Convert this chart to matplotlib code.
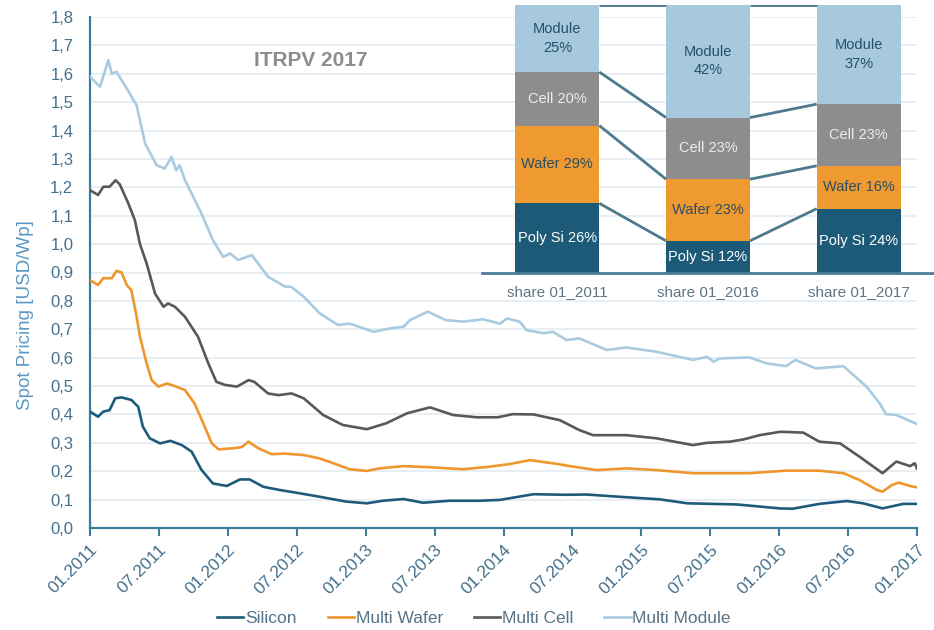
import matplotlib
matplotlib.use("Agg")
import matplotlib.pyplot as plt
import numpy as np

plt.rcParams['font.family'] = ['Liberation Sans', 'DejaVu Sans']

# ---------------- data (months since 01.2011) ----------------
module_m = [0.0, 0.87, 1.6, 1.9, 2.3, 3.2, 4.06, 4.8, 5.8, 6.5, 7.1, 7.5, 7.8, 8.27, 9.7, 10.7,
            11.6, 12.2, 12.9, 14.1, 15.5, 17.0, 17.5, 18.6, 20.0, 21.6, 22.6, 24.7, 26.1, 27.3,
            27.85, 29.4, 31.0, 32.5, 34.2, 35.7, 36.3, 37.4, 38.0, 39.5, 40.3, 41.5, 42.6, 45.0,
            46.7, 49.3, 52.5, 53.7, 54.3, 54.8, 57.4, 58.9, 60.6, 61.4, 63.2, 65.6, 67.6, 68.75,
            69.3, 70.2, 72.0]
module_v = [1.59, 1.554, 1.648, 1.60, 1.607, 1.548, 1.489, 1.354, 1.278, 1.266, 1.307, 1.26, 1.278,
            1.225, 1.108, 1.014, 0.955, 0.967, 0.944, 0.961, 0.885, 0.85, 0.85, 0.815, 0.756, 0.715,
            0.72, 0.691, 0.703, 0.709, 0.732, 0.762, 0.732, 0.727, 0.735, 0.72, 0.738, 0.727, 0.697,
            0.686, 0.691, 0.662, 0.668, 0.627, 0.636, 0.621, 0.592, 0.603, 0.586, 0.597, 0.601,
            0.58, 0.570, 0.592, 0.562, 0.570, 0.498, 0.439, 0.401, 0.398, 0.366]

cell_m = [0.0, 0.7, 1.16, 1.7, 2.23, 2.6, 3.34, 3.9, 4.35, 4.93, 5.66, 6.4, 6.8, 7.4, 8.27, 9.4,
          10.3, 11.0, 11.75, 12.8, 13.8, 14.3, 15.5, 16.4, 17.55, 18.6, 20.3, 22.0, 24.1, 25.8,
          27.6, 29.6, 31.6, 33.7, 35.5, 36.8, 38.6, 40.9, 42.6, 43.8, 46.7, 49.3, 52.5, 53.7,
          55.7, 56.9, 58.3, 60.1, 62.1, 63.5, 65.3, 67.0, 69.0, 70.2, 71.4, 71.8, 72.0]
cell_v = [1.19, 1.173, 1.202, 1.202, 1.225, 1.21, 1.143, 1.085, 1.0, 0.932, 0.826, 0.779, 0.791,
          0.779, 0.744, 0.674, 0.58, 0.515, 0.504, 0.498, 0.521, 0.515, 0.474, 0.468, 0.474, 0.457,
          0.398, 0.363, 0.348, 0.369, 0.404, 0.425, 0.398, 0.39, 0.39, 0.401, 0.40, 0.38, 0.345,
          0.327, 0.327, 0.316, 0.292, 0.300, 0.304, 0.312, 0.327, 0.339, 0.336, 0.304, 0.298,
          0.251, 0.193, 0.234, 0.218, 0.228, 0.21]

wafer_m = [0.0, 0.7, 1.16, 1.9, 2.3, 2.75, 3.2, 3.6, 4.06, 4.35, 4.93, 5.37, 5.95, 6.7, 7.5, 8.27,
           9.1, 9.86, 10.6, 11.2, 12.5, 13.2, 13.8, 14.65, 15.8, 17.0, 18.6, 20.0, 21.2, 22.6,
           24.1, 25.2, 27.3, 29.6, 32.5, 34.8, 36.5, 38.3, 40.3, 42.1, 44.1, 46.7, 49.3, 52.5,
           55.7, 57.4, 60.6, 63.5, 65.6, 67.0, 68.5, 69.0, 69.8, 70.4, 71.4, 72.0]
wafer_v = [0.873, 0.856, 0.88, 0.88, 0.906, 0.90, 0.856, 0.838, 0.744, 0.674, 0.58, 0.521, 0.498,
           0.509, 0.498, 0.486, 0.439, 0.369, 0.298, 0.277, 0.281, 0.285, 0.304, 0.281, 0.26,
           0.262, 0.257, 0.245, 0.228, 0.207, 0.201, 0.21, 0.218, 0.214, 0.207, 0.216, 0.225,
           0.239, 0.228, 0.216, 0.204, 0.21, 0.204, 0.193, 0.193, 0.193, 0.202, 0.202, 0.193,
           0.169, 0.134, 0.128, 0.151, 0.160, 0.148, 0.143]

silicon_m = [0.0, 0.7, 1.16, 1.7, 2.2, 2.75, 3.6, 4.2, 4.6, 5.2, 6.1, 7.0, 8.0, 8.85, 9.7, 10.7,
             11.9, 13.05, 13.9, 15.1, 16.5, 18.3, 20.0, 22.3, 24.1, 25.5, 27.3, 29.0, 31.3, 33.9,
             35.7, 38.6, 41.5, 43.2, 46.1, 49.6, 52.0, 56.3, 60.05, 61.2, 63.5, 65.9, 67.3, 69.0,
             70.8, 72.0]
silicon_v = [0.41, 0.392, 0.41, 0.415, 0.457, 0.46, 0.451, 0.427, 0.357, 0.316, 0.298, 0.307,
             0.292, 0.269, 0.205, 0.157, 0.148, 0.171, 0.171, 0.145, 0.134, 0.122, 0.110, 0.093,
             0.087, 0.096, 0.102, 0.089, 0.096, 0.096, 0.099, 0.119, 0.117, 0.118, 0.11, 0.101,
             0.087, 0.083, 0.069, 0.068, 0.085, 0.095, 0.087, 0.069, 0.085, 0.085]

x_tick_months = [0, 6, 12, 18, 24, 30, 36, 42, 48, 54, 60, 66, 72]
x_tick_labels = ['01.2011', '07.2011', '01.2012', '07.2012', '01.2013', '07.2013', '01.2014',
                 '07.2014', '01.2015', '07.2015', '01.2016', '07.2016', '01.2017']
y_ticks = [round(0.1 * i, 1) for i in range(19)]

# inset stacked bars
share_labels = ['share 01_2011', 'share 01_2016', 'share 01_2017']
stage_names = ['Poly Si', 'Wafer', 'Cell', 'Module']
polysi_share = [26, 12, 24]
wafer_share = [29, 23, 16]
cell_share = [20, 23, 23]
module_share = [25, 42, 37]

# ---------------- styling ----------------
c_silicon = '#1e5b7a'
c_wafer = '#f0962e'
c_cell = '#585858'
c_module = '#a9cbe0'
c_axis = '#3d7c9a'
c_tick = '#44708c'
c_grid = '#e3ecf3'

fig = plt.figure(figsize=(9.34, 6.3), dpi=100)
ax = fig.add_axes([90 / 934, 102 / 630, 827 / 934, 511 / 630])

lw = 1.9
ax.plot(silicon_m, silicon_v, color=c_silicon, lw=lw, label='Silicon', zorder=3)
ax.plot(wafer_m, wafer_v, color=c_wafer, lw=lw, label='Multi Wafer', zorder=3)
ax.plot(cell_m, cell_v, color=c_cell, lw=lw, label='Multi Cell', zorder=3)
ax.plot(module_m, module_v, color=c_module, lw=lw, label='Multi Module', zorder=3)

ax.set_xlim(0, 72)
ax.set_ylim(0, 1.8)
ax.set_yticks(y_ticks)
ax.set_yticklabels([f'{v:.1f}'.replace('.', ',') for v in y_ticks])
ax.set_xticks(x_tick_months)
ax.set_xticklabels(x_tick_labels, rotation=45, ha='right', va='top', rotation_mode='anchor')
ax.tick_params(axis='y', length=0, pad=12, labelsize=12, labelcolor=c_tick)
ax.tick_params(axis='x', length=6, width=1.5, color=c_axis, pad=4, labelsize=12.5,
               labelcolor=c_tick)
for s in ['top', 'right']:
    ax.spines[s].set_visible(False)
for s in ['left', 'bottom']:
    ax.spines[s].set_color(c_axis)
    ax.spines[s].set_linewidth(1.6)
ax.yaxis.grid(True, color=c_grid, lw=1.2, zorder=0)
ax.set_axisbelow(True)

fig.text(26 / 934, 1 - 315 / 630, 'Spot Pricing [USD/Wp]', rotation=90, ha='center', va='center',
         fontsize=13.5, color='#5a98c2')
fig.text(311 / 934, 1 - 60 / 630, 'ITRPV 2017', ha='center', va='center', fontsize=15,
         fontweight='bold', color='#8c8c8c')

leg = fig.legend(loc='center', bbox_to_anchor=(474 / 934, 12 / 630), ncol=4, frameon=False,
                 fontsize=12.5, handlelength=1.5, handletextpad=0.1, columnspacing=1.8)
for t in leg.get_texts():
    t.set_color('#56738a')

# ---------------- inset ----------------
ins = fig.add_axes([482 / 934, 1 - 273 / 630, 452 / 934, 268 / 630])
ins.patch.set_alpha(0)
xs = np.arange(len(share_labels))
bw = 84 / 150.75
seg_vals = [polysi_share, wafer_share, cell_share, module_share]
seg_cols = ['#1d5a78', '#ee9a30', '#8d8d8d', '#a7c9de']
txt_cols = ['white', '#2b4f66', '#ececec', '#24506a']
bottoms = np.zeros(len(share_labels))
cum_levels = []
for name, vals, col, tc in zip(stage_names, seg_vals, seg_cols, txt_cols):
    vals = np.array(vals, dtype=float)
    ins.bar(xs, vals, bottom=bottoms, width=bw, color=col, edgecolor='none', zorder=2)
    for i in range(len(xs)):
        if name == 'Module':
            lab = f'{name}\n{int(vals[i])}%'
        else:
            lab = f'{name} {int(vals[i])}%'
        ins.text(xs[i], bottoms[i] + vals[i] / 2, lab, ha='center', va='center', fontsize=10.5,
                 color=tc, zorder=4, linespacing=1.4)
    bottoms = bottoms + vals
    cum_levels.append(bottoms.copy())

for lev in cum_levels:
    for i in range(len(xs) - 1):
        ins.plot([xs[i] + bw / 2, xs[i + 1] - bw / 2], [lev[i], lev[i + 1]], color='#4d7a8e',
                 lw=2, zorder=3, solid_capstyle='butt')

ins.set_xlim(-0.5, 2.5)
ins.set_ylim(0, 100)
ins.set_yticks([])
ins.set_xticks(xs)
ins.set_xticklabels(share_labels)
ins.tick_params(axis='x', length=0, pad=9, labelsize=11, labelcolor='#5f7585')
for s in ['top', 'right', 'left']:
    ins.spines[s].set_visible(False)
ins.spines['bottom'].set_color('#4a7f99')
ins.spines['bottom'].set_linewidth(2)

fig.savefig('out.png', dpi=100)
